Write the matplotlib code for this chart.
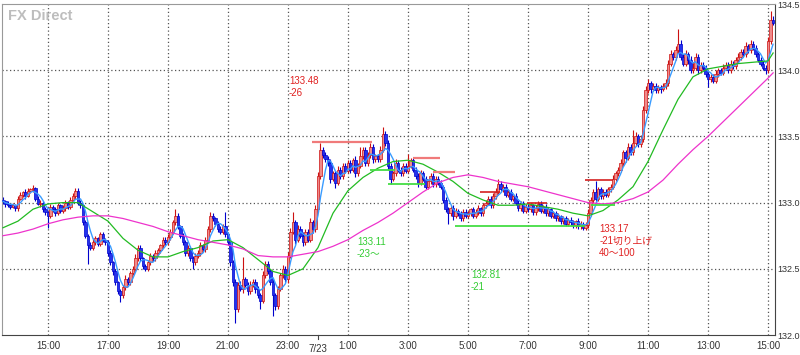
import matplotlib
matplotlib.use('Agg')
import matplotlib.pyplot as plt
import numpy as np
import pandas as pd

# ---------------- data ----------------
start_hour = 13.5          # first 5-minute candle at 13:30 (7/22)
bar_hours = 5 / 60
first_open = 133.02

closes = [
    133.01, 132.99, 132.98, 132.97, 132.98, 132.96,
    133.03, 133.06, 133.08, 133.05, 133.09, 133.10, 133.11, 133.03, 132.99, 133.00, 132.95, 132.93,
    132.90, 132.97, 132.95, 132.92, 132.98, 132.94, 132.96, 133.00, 132.97, 133.02, 133.05, 133.09,
    133.00, 132.98, 132.85, 132.75, 132.68, 132.66, 132.70, 132.73, 132.69, 132.76, 132.72, 132.70,
    132.62, 132.55, 132.48, 132.40, 132.33, 132.30, 132.36, 132.42, 132.40, 132.47, 132.50, 132.58,
    132.66, 132.58, 132.52, 132.50, 132.55, 132.60, 132.58, 132.62, 132.64, 132.68, 132.72, 132.70,
    132.74, 132.78, 132.85, 132.90, 132.82, 132.75, 132.70, 132.62, 132.66, 132.58, 132.55, 132.60,
    132.62, 132.68, 132.65, 132.72, 132.80, 132.90, 132.88, 132.84, 132.80, 132.78, 132.82, 132.76,
    132.70, 132.55, 132.40, 132.20, 132.38, 132.35, 132.42, 132.38, 132.33, 132.38, 132.40, 132.35,
    132.30, 132.26, 132.45, 132.54, 132.48, 132.40, 132.30, 132.22, 132.35, 132.45, 132.50, 132.42,
    132.60, 132.78, 132.85, 132.72, 132.80, 132.75, 132.70, 132.78, 132.72, 132.85, 132.80, 132.95,
    133.20, 133.40, 133.36, 133.33, 133.30, 133.18, 133.22, 133.15, 133.25, 133.20, 133.28, 133.24,
    133.30, 133.25, 133.32, 133.22, 133.28, 133.35, 133.40, 133.30, 133.36, 133.42, 133.33, 133.35,
    133.33, 133.40, 133.52, 133.45, 133.28, 133.18, 133.22, 133.30, 133.25, 133.22, 133.28, 133.24,
    133.28, 133.32, 133.25, 133.20, 133.15, 133.22, 133.18, 133.12, 133.16, 133.20, 133.14, 133.18,
    133.15, 133.12, 133.02, 132.95, 132.92, 132.96, 132.90, 132.94, 132.92, 132.88, 132.93, 132.90,
    132.92, 132.95, 132.90, 132.93, 132.96, 132.92, 132.98, 133.00, 133.03, 132.98, 133.05, 133.08,
    133.14, 133.10, 133.12, 133.06, 133.08, 133.03, 133.05, 133.00, 132.96, 132.99, 132.94, 132.97,
    132.95, 132.98, 132.93, 132.96, 132.99, 132.94, 132.97, 132.92, 132.95, 132.90, 132.92, 132.88,
    132.90, 132.86, 132.88, 132.84, 132.87, 132.85, 132.83, 132.86, 132.82, 132.84, 132.81, 132.83,
    132.92, 133.02, 133.08, 133.03, 133.10, 133.05, 133.08, 133.06, 133.10, 133.12, 133.18, 133.22,
    133.25, 133.30, 133.38, 133.34, 133.42, 133.38, 133.45, 133.50, 133.44, 133.48, 133.70, 133.85,
    133.90, 133.86, 133.88, 133.85, 133.87, 133.86, 133.88, 133.90, 134.05, 134.12, 134.10, 134.15,
    134.20, 134.10, 134.05, 134.12, 134.08, 134.00, 134.02, 134.10, 134.00, 134.04, 134.02, 133.97,
    133.93, 133.95, 133.92, 133.97, 134.00, 133.98, 134.02, 134.04, 134.00, 134.05, 134.03, 134.08,
    134.10, 134.14, 134.12, 134.18, 134.15, 134.20, 134.17, 134.12, 134.08, 134.05, 134.02, 134.00,
    134.22, 134.38, 134.36,
]

# wick lengths beyond the body, in pips (0.01)
upper_wick = [
    2, 1, 2, 1, 2, 1,
    2, 2, 1, 2, 2, 1, 2, 1, 2, 2, 1, 2,
    1, 2, 1, 2, 2, 1, 2, 2, 1, 2, 2, 2,
    2, 2, 1, 2, 1, 2, 3, 2, 1, 2, 2, 1,
    2, 2, 1, 2, 1, 2, 2, 3, 2, 1, 2, 3,
    2, 2, 1, 2, 2, 2, 1, 2, 2, 1, 2, 2,
    2, 2, 2, 5, 2, 1, 2, 2, 2, 1, 2, 2,
    2, 2, 1, 2, 2, 3, 2, 1, 2, 2, 2, 11,
    2, 1, 2, 2, 2, 3, 17, 2, 2, 3, 2, 2,
    2, 2, 3, 2, 2, 2, 3, 2, 2, 2, 3, 2,
    3, 3, 8, 2, 3, 2, 3, 2, 2, 3, 2, 3,
    3, 5, 2, 2, 2, 3, 2, 2, 3, 2, 2, 2,
    2, 2, 2, 3, 2, 7, 2, 2, 2, 3, 2, 2,
    2, 3, 5, 2, 2, 2, 2, 3, 2, 2, 2, 2,
    9, 2, 2, 2, 2, 3, 2, 2, 2, 2, 2, 2,
    2, 2, 1, 2, 2, 2, 2, 2, 1, 2, 2, 2,
    2, 1, 2, 2, 2, 1, 2, 2, 2, 2, 2, 3,
    4, 2, 2, 2, 2, 2, 1, 2, 2, 2, 2, 2,
    2, 2, 1, 2, 2, 2, 1, 2, 2, 1, 2, 2,
    2, 1, 2, 2, 1, 2, 2, 1, 2, 2, 1, 2,
    3, 2, 2, 8, 2, 2, 2, 2, 2, 2, 3, 2,
    2, 3, 2, 2, 3, 2, 10, 3, 2, 3, 3, 3,
    3, 2, 2, 2, 2, 2, 2, 3, 3, 3, 2, 3,
    11, 3, 2, 3, 2, 3, 4, 3, 2, 2, 2, 2,
    2, 2, 2, 3, 2, 2, 3, 2, 2, 3, 2, 2,
    3, 2, 2, 3, 2, 3, 2, 2, 2, 2, 2, 2,
    3, 7, 3,
]
lower_wick = [
    2, 2, 1, 2, 1, 2,
    2, 1, 2, 2, 1, 2, 2, 2, 1, 2, 2, 2,
    9, 2, 2, 2, 1, 2, 2, 2, 2, 2, 1, 2,
    2, 2, 2, 2, 14, 2, 2, 2, 2, 2, 2, 2,
    2, 2, 3, 2, 2, 5, 2, 2, 2, 2, 2, 2,
    2, 2, 2, 2, 2, 2, 2, 2, 2, 2, 2, 2,
    2, 2, 2, 2, 2, 2, 2, 2, 2, 2, 5, 2,
    2, 2, 2, 2, 2, 2, 2, 2, 2, 2, 2, 2,
    2, 3, 3, 11, 3, 2, 3, 2, 3, 2, 2, 3,
    2, 6, 2, 2, 2, 2, 16, 3, 2, 2, 2, 2,
    3, 2, 2, 3, 2, 2, 3, 2, 2, 2, 3, 2,
    2, 2, 2, 2, 2, 3, 2, 4, 2, 2, 2, 2,
    2, 3, 2, 3, 2, 2, 2, 2, 2, 2, 3, 2,
    2, 2, 2, 2, 3, 4, 2, 2, 2, 2, 2, 2,
    2, 2, 2, 2, 3, 2, 2, 2, 2, 2, 2, 2,
    2, 2, 2, 2, 8, 2, 3, 2, 2, 2, 2, 2,
    2, 2, 2, 2, 2, 2, 2, 2, 2, 2, 2, 2,
    2, 2, 2, 2, 2, 2, 2, 2, 2, 2, 2, 2,
    2, 2, 2, 2, 2, 2, 2, 2, 2, 2, 2, 2,
    2, 2, 2, 2, 2, 2, 2, 2, 2, 2, 2, 2,
    2, 2, 2, 2, 2, 2, 2, 2, 2, 2, 2, 2,
    2, 2, 2, 3, 2, 2, 2, 2, 2, 2, 2, 2,
    2, 3, 2, 2, 2, 3, 2, 2, 2, 2, 2, 2,
    2, 2, 2, 2, 3, 2, 2, 2, 3, 2, 2, 2,
    6, 2, 2, 2, 2, 2, 2, 2, 2, 2, 2, 2,
    2, 2, 2, 2, 2, 2, 2, 2, 2, 2, 2, 3,
    2, 2, 2,
]

# moving averages, every 30 minutes from 13:30
ma_times = [13.5 + 0.5 * k for k in range(52)] + [39.17]
ma_mid = [  # green
    132.81, 132.86, 132.95, 132.99, 133.00, 133.00, 132.93, 132.86, 132.73, 132.64,
    132.59, 132.59, 132.63, 132.66, 132.71, 132.72, 132.66, 132.57, 132.48, 132.45,
    132.50, 132.66, 132.92, 133.09, 133.19, 133.26, 133.31, 133.32, 133.29, 133.23,
    133.16, 133.07, 133.02, 132.98, 132.98, 132.99, 132.97, 132.95, 132.92, 132.90,
    132.94, 133.02, 133.12, 133.31, 133.55, 133.78, 133.95, 134.01, 134.03, 134.05,
    134.06, 134.07, 134.13,
]
ma_long = [  # magenta
    132.75, 132.77, 132.80, 132.84, 132.87, 132.89, 132.90, 132.90, 132.88, 132.85,
    132.82, 132.78, 132.75, 132.72, 132.70, 132.68, 132.65, 132.60, 132.59, 132.59,
    132.61, 132.63, 132.67, 132.72, 132.79, 132.85, 132.92, 133.00, 133.08, 133.15,
    133.19, 133.21, 133.19, 133.16, 133.14, 133.12, 133.09, 133.06, 133.03, 133.00,
    132.99, 133.00, 133.03, 133.08, 133.17, 133.29, 133.40, 133.50, 133.61, 133.72,
    133.83, 133.94, 133.98,
]
ma_short_window = 5

# annotation level lines (price, start hour, end hour)
red_levels = [133.46, 133.34, 133.23, 133.08, 133.00, 133.17]
red_starts = [23.80, 27.17, 27.83, 29.40, 30.97, 32.90]
red_ends = [25.80, 28.07, 28.57, 30.07, 31.63, 33.83]
red_colors = ['#f07a7a', '#f07a7a', '#f07a7a', '#d42020', '#d42020', '#d42020']
green_levels = [133.25, 133.14, 132.82, 132.98]
green_starts = [25.73, 26.33, 28.57, 33.10]
green_ends = [26.57, 27.57, 32.90, 33.90]

notes = [
    (23.03, 133.92, '133.48', '#e02020'),
    (23.03, 133.83, '-26', '#e02020'),
    (25.30, 132.70, '133.11', '#33cc33'),
    (25.30, 132.61, '-23〜', '#33cc33'),
    (29.10, 132.45, '132.81', '#33cc33'),
    (29.10, 132.36, '-21', '#33cc33'),
    (33.37, 132.80, '133.17', '#e02020'),
    (33.37, 132.71, '-21切り上げ', '#e02020'),
    (33.37, 132.62, '40〜100', '#e02020'),
]

tick_hours = [15, 17, 19, 21, 23, 25, 27, 29, 31, 33, 35, 37, 39]
tick_labels = ['15:00', '17:00', '19:00', '21:00', '23:00', '1:00', '3:00',
               '5:00', '7:00', '9:00', '11:00', '13:00', '15:00']
price_ticks = [132.0, 132.5, 133.0, 133.5, 134.0, 134.5]

# ---------------- figure ----------------
FONTS = ['Liberation Sans', 'Noto Sans CJK JP', 'DejaVu Sans']
plt.rcParams['font.family'] = FONTS

fig = plt.figure(figsize=(8, 3.55), dpi=100)
ax = fig.add_axes([2 / 800, 20 / 355, 773 / 800, 331 / 355])
ax.set_xlim(13.467, 39.233)
ax.set_ylim(132.0, 134.5)

n = min(len(closes), len(upper_wick), len(lower_wick))
c = np.array(closes[:n])
o = np.concatenate([[first_open], c[:-1]])
uw = np.array(upper_wick[:n]) / 100
lw = np.array(lower_wick[:n]) / 100
hi = np.maximum(o, c) + uw
lo = np.minimum(o, c) - lw
t = start_hour + np.arange(n) * bar_hours

# grid
for h in tick_hours:
    ax.axvline(h, color='#555555', lw=0.9, ls=(0, (1, 2)), zorder=0)
for p in price_ticks[1:-1]:
    ax.axhline(p, color='#555555', lw=0.9, ls=(0, (1, 2)), zorder=0)

up = c >= o
face = np.where(up, '#f08a8a', '#2233ee')
edge = np.where(up, '#cc1111', '#0000cc')
ax.vlines(t, lo, hi, colors=edge, lw=0.8, zorder=2)
body_h = np.maximum(np.abs(c - o), 0.006)
ax.bar(t, body_h, bottom=np.minimum(o, c), width=bar_hours * 0.85,
       color=face, edgecolor=edge, linewidth=0.5, zorder=3)

# moving averages
ma_short = pd.Series(c).rolling(ma_short_window, min_periods=1).mean()
ax.plot(t, ma_short, color='#3a9cff', lw=1.0, zorder=4)
ax.plot(ma_times, ma_mid, color='#22bb22', lw=0.9, zorder=4)
ax.plot(ma_times, ma_long, color='#ee33cc', lw=0.9, zorder=4)

# level lines
for p, s, e, col in zip(red_levels, red_starts, red_ends, red_colors):
    ax.hlines(p, s, e, colors=col, lw=1.6 if col == '#f07a7a' else 1.2, zorder=5)
for p, s, e in zip(green_levels, green_starts, green_ends):
    ax.hlines(p, s, e, colors='#44dd44', lw=1.3, zorder=5)

for x, y, s, col in notes:
    ax.text(x, y, s, color=col, fontsize=7, va='center', ha='left', family=FONTS, zorder=6)

ax.text(0.008, 0.985, 'FX Direct', transform=ax.transAxes, fontsize=10.5,
        fontweight='bold', color='#bdbdbd', va='top', ha='left')

# axes styling
ax.yaxis.tick_right()
ax.set_yticks(price_ticks)
ax.set_yticklabels([f'{p:.1f}' for p in price_ticks])
ax.set_xticks(tick_hours)
ax.set_xticklabels(tick_labels)
ax.tick_params(axis='x', labelsize=7, colors='#333333', length=0, pad=4)
ax.tick_params(axis='y', labelsize=6.5, colors='#333333', length=0, pad=1.5)
for s in ['left', 'top']:
    ax.spines[s].set_color('#999999')
for s in ['right', 'bottom']:
    ax.spines[s].set_color('#444444')
ax.text(24, -0.043, '7/23', transform=ax.get_xaxis_transform(), fontsize=7,
        color='#333333', ha='center', va='center')
ax.plot([24, 24], [0, -0.012], transform=ax.get_xaxis_transform(),
        color='#444444', lw=0.8, clip_on=False)

fig.savefig('out.png', dpi=100)
